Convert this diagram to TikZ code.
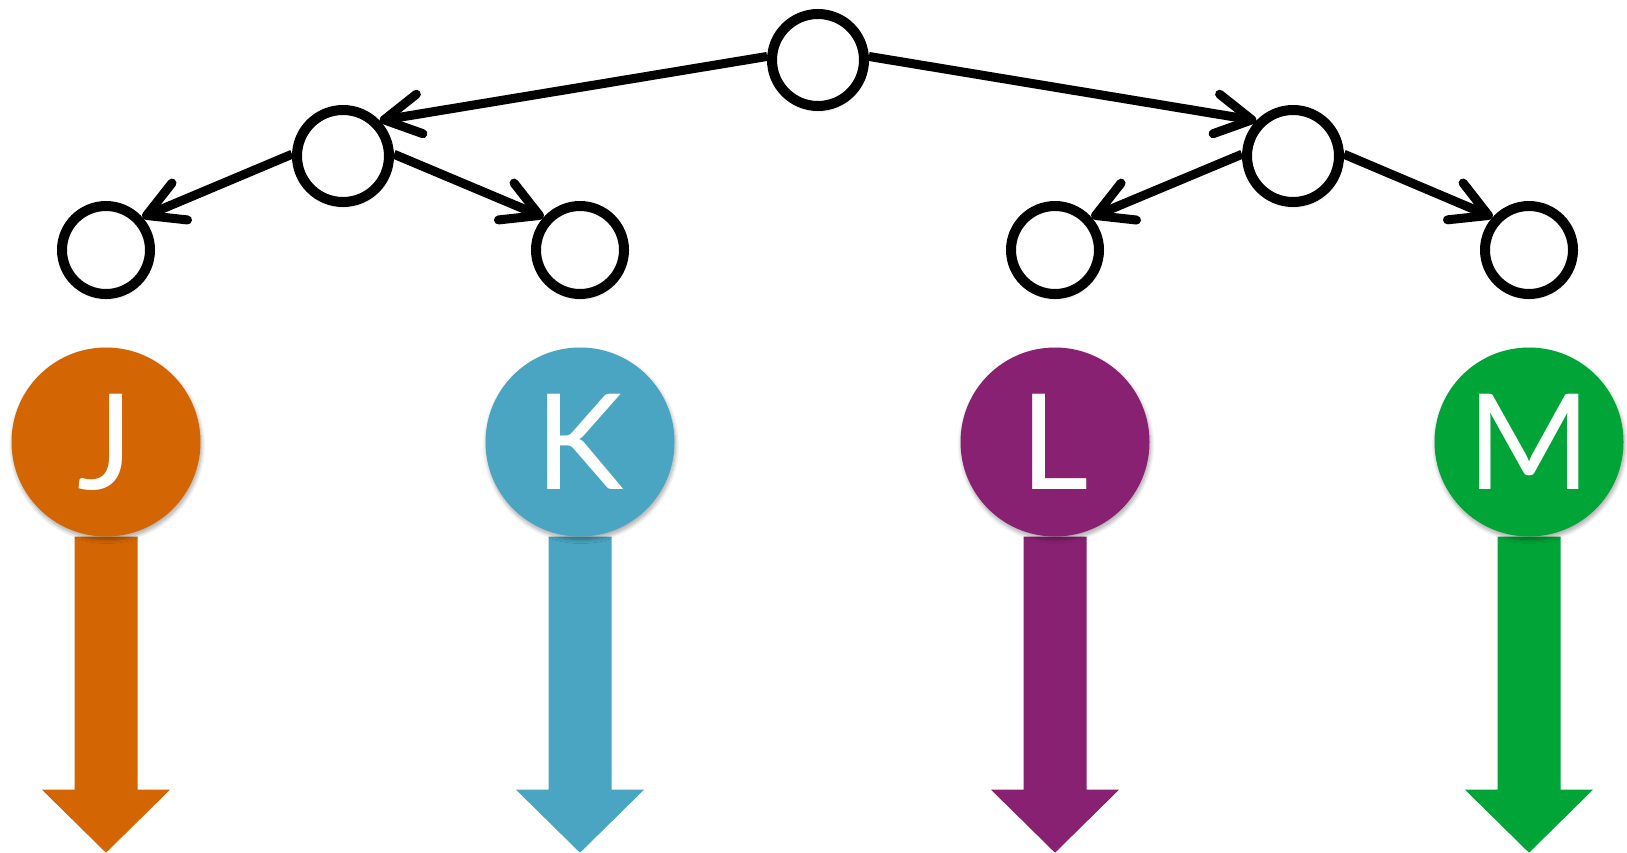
\documentclass[tikz,border=0pt]{standalone}
\usepackage{fontspec}
\setmainfont{Lato}
\usetikzlibrary{arrows.meta,shadows.blur}

\definecolor{jorange}{RGB}{211,102,2}
\definecolor{kblue}{RGB}{73,165,194}
\definecolor{lpurple}{RGB}{137,33,114}
\definecolor{mgreen}{RGB}{0,164,55}

\pgfdeclarelayer{back}
\pgfsetlayers{back,main}

\begin{document}
\begin{tikzpicture}[x=1pt,y=-1pt,
  softshadow/.style={blur shadow={shadow xshift=1pt,shadow yshift=-3pt,
      shadow blur radius=4pt,shadow blur steps=8,shadow opacity=35}},
  vertex/.style={circle,draw=black,fill=white,line width=10pt,
      minimum size=92pt,inner sep=0pt,softshadow},
  leaf/.style={vertex,minimum size=88pt},
  link/.style={line width=9pt,
      -{Straight Barb[length=36pt,width=40pt,round]}},
  badge/.style={circle,minimum size=189pt,inner sep=0pt,text=white,
      fill=#1,softshadow,text height=95pt,text depth=0pt,
      font=\fontsize{133}{133}\selectfont},
]
\useasboundingbox (0,0) rectangle (1627,852);

% tree of plain vertices
\node[vertex] (r)  at (818,60)   {};
\node[vertex] (a)  at (343,156)  {};
\node[vertex] (b)  at (1293,156) {};
\node[leaf]   (c1) at (106,250)  {};
\node[leaf]   (c2) at (580,250)  {};
\node[leaf]   (c3) at (1055,250) {};
\node[leaf]   (c4) at (1529,250) {};

\draw[link] (r.176) -- (a.44);
\draw[link] (r.4)   -- (b.136);
\draw[link] (a.178) -- (c1.42);
\draw[link] (a.2)   -- (c2.138);
\draw[link] (b.178) -- (c3.42);
\draw[link] (b.2)   -- (c4.138);

% coloured badges
\node[badge=jorange] (bj) at (106,442)  {J};
\node[badge=kblue]   (bk) at (580,442)  {K};
\node[badge=lpurple] (bl) at (1055,442) {L};
\node[badge=mgreen]  (bm) at (1529,442) {M};

% block arrows hanging below each badge
\begin{pgfonlayer}{back}
\foreach \n/\c in {bj/jorange,bk/kblue,bl/lpurple,bm/mgreen}{
  \fill[\c] ([xshift=-31.5pt]\n.south) -- ++(0,253) -- ++(-32.5,0)
    -- ++(64,63) -- ++(64,-63) -- ++(-32.5,0) -- ++(0,-253) -- cycle;
}
\end{pgfonlayer}
\end{tikzpicture}
\end{document}
